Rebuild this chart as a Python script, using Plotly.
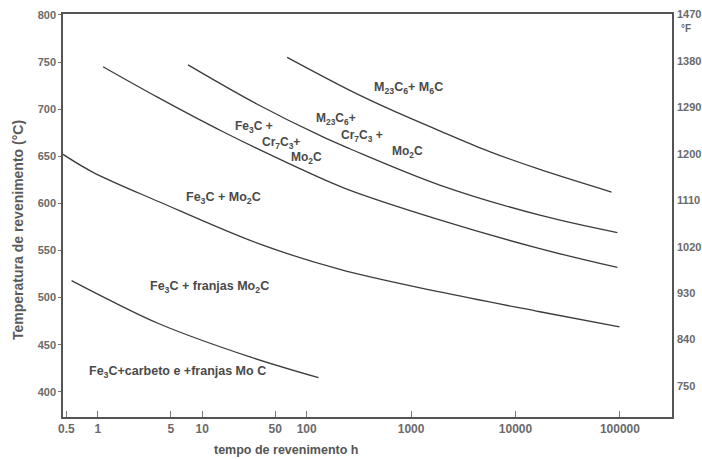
import plotly.graph_objects as go

# Boundary curves (tempo h, temperatura °C)
c1_t = [0.56, 1.31, 3.9, 28.7, 130]
c1_T = [518, 497, 472, 437, 415]

c2_t = [0.464, 0.9, 3.9, 35.2, 208, 1880, 17100, 99200]
c2_T = [652, 633, 601.5, 557, 530, 506, 485, 469]

cA_t = [1.12, 3.68, 15.8, 68.6, 232, 1880, 17100, 94600]
cA_T = [745, 713, 676, 642, 616, 582.5, 552, 532]

cB_t = [7.3, 33.3, 143, 259, 1880, 17100, 94600]
cB_T = [747, 705.5, 670.5, 658, 619.5, 587.5, 569]

cC_t = [65, 259, 624, 1880, 5650, 17100, 83200]
cC_T = [755, 720, 700, 677, 655, 636, 612]

x_tickvals = [0.5, 1, 5, 10, 50, 100, 1000, 10000, 100000]
x_ticktext = ["0.5", "1", "5", "10", "50", "100", "1000", "10000", "100000"]
yC_ticks = [400, 450, 500, 550, 600, 650, 700, 750, 800]
yF_ticks = [750, 840, 930, 1020, 1110, 1200, 1290, 1380, 1470]

line_col = "#3c3c3c"
txt_col = "#4a4a4a"

fig = go.Figure()
for t, T in [(c1_t, c1_T), (c2_t, c2_T), (cA_t, cA_T), (cB_t, cB_T), (cC_t, cC_T)]:
    fig.add_trace(go.Scatter(x=t, y=T, mode="lines",
                             line=dict(color=line_col, width=1.3, shape="spline", smoothing=1.0),
                             showlegend=False, hoverinfo="skip"))
# invisible trace to activate right axis
fig.add_trace(go.Scatter(x=[1], y=[1000], yaxis="y2", mode="markers",
                         marker=dict(opacity=0), showlegend=False, hoverinfo="skip"))

fig.update_layout(
    width=702, height=459,
    margin=dict(l=63, r=30, t=14, b=42),
    paper_bgcolor="white", plot_bgcolor="white",
    font=dict(family="Liberation Sans, Arial, sans-serif", size=11, color="#666"),
    xaxis=dict(type="log", range=[-0.334, 5.499], automargin=False,
               tickvals=x_tickvals, ticktext=x_ticktext,
               ticks="inside", ticklen=6, tickcolor="#777",
               showline=True, linecolor="#555", linewidth=1.5, mirror=True,
               showgrid=False, zeroline=False,
               tickfont=dict(size=12, color="#6a6a6a", weight="bold")),
    yaxis=dict(range=[373.3, 801], tickvals=yC_ticks, automargin=False,
               ticks="outside", ticklen=3, tickcolor="#777",
               showline=True, linecolor="#555", linewidth=1.5,
               showgrid=False, zeroline=False,
               tickfont=dict(size=11, color="#6a6a6a", weight="bold")),
    yaxis2=dict(overlaying="y", side="right", automargin=False,
                range=[690, 1471], tickvals=yF_ticks,
                ticks="", ticklabelstandoff=1,
                showline=True, linecolor="#555", linewidth=1.5,
                showgrid=False, zeroline=False,
                tickfont=dict(size=11, color="#6a6a6a", weight="bold")),
)

def px2paper(px, py):
    return (px - 63) / (672 - 63), 1 - (py - 14) / (417 - 14)

labels = [
    ("M<sub>23</sub>C<sub>6</sub>+ M<sub>6</sub>C", 408, 88, 12.5),
    ("M<sub>23</sub>C<sub>6</sub>+", 336, 119, 12),
    ("Cr<sub>7</sub>C<sub>3</sub> +", 362, 136, 12),
    ("Mo<sub>2</sub>C", 407, 152, 12),
    ("Fe<sub>3</sub>C +", 254, 127, 12),
    ("Cr<sub>7</sub>C<sub>3</sub>+", 281, 143, 12),
    ("Mo<sub>2</sub>C", 306, 158, 12),
    ("Fe<sub>3</sub>C + Mo<sub>2</sub>C", 223, 198, 12.5),
    ("Fe<sub>3</sub>C + franjas Mo<sub>2</sub>C", 209, 287, 12.5),
    ("Fe<sub>3</sub>C+carbeto e +franjas Mo C", 177, 372, 12.5),
]
for txt, px, py, fs in labels:
    xp, yp = px2paper(px, py)
    fig.add_annotation(text=txt, x=xp, y=yp, xref="paper", yref="paper",
                       xanchor="center", yanchor="middle",
                       showarrow=False, font=dict(size=fs, color=txt_col, weight="bold"))

# axis titles
fig.add_annotation(text="Temperatura de revenimento (°C)", textangle=-90,
                   x=px2paper(18, 0)[0], y=px2paper(0, 230)[1], xref="paper", yref="paper",
                   xanchor="center", yanchor="middle",
                   showarrow=False, font=dict(size=14, color="#5a5a5a", weight="bold"))
fig.add_annotation(text="tempo de revenimento h",
                   x=px2paper(286, 0)[0], y=px2paper(0, 450)[1], xref="paper", yref="paper",
                   xanchor="center", yanchor="middle",
                   showarrow=False, font=dict(size=12.5, color="#555", weight="bold"))
fig.add_annotation(text="°F",
                   x=px2paper(686, 0)[0], y=px2paper(0, 28)[1], xref="paper", yref="paper",
                   xanchor="center", yanchor="middle",
                   showarrow=False, font=dict(size=10, color="#666", weight="bold"))

fig.write_html("out.html")
